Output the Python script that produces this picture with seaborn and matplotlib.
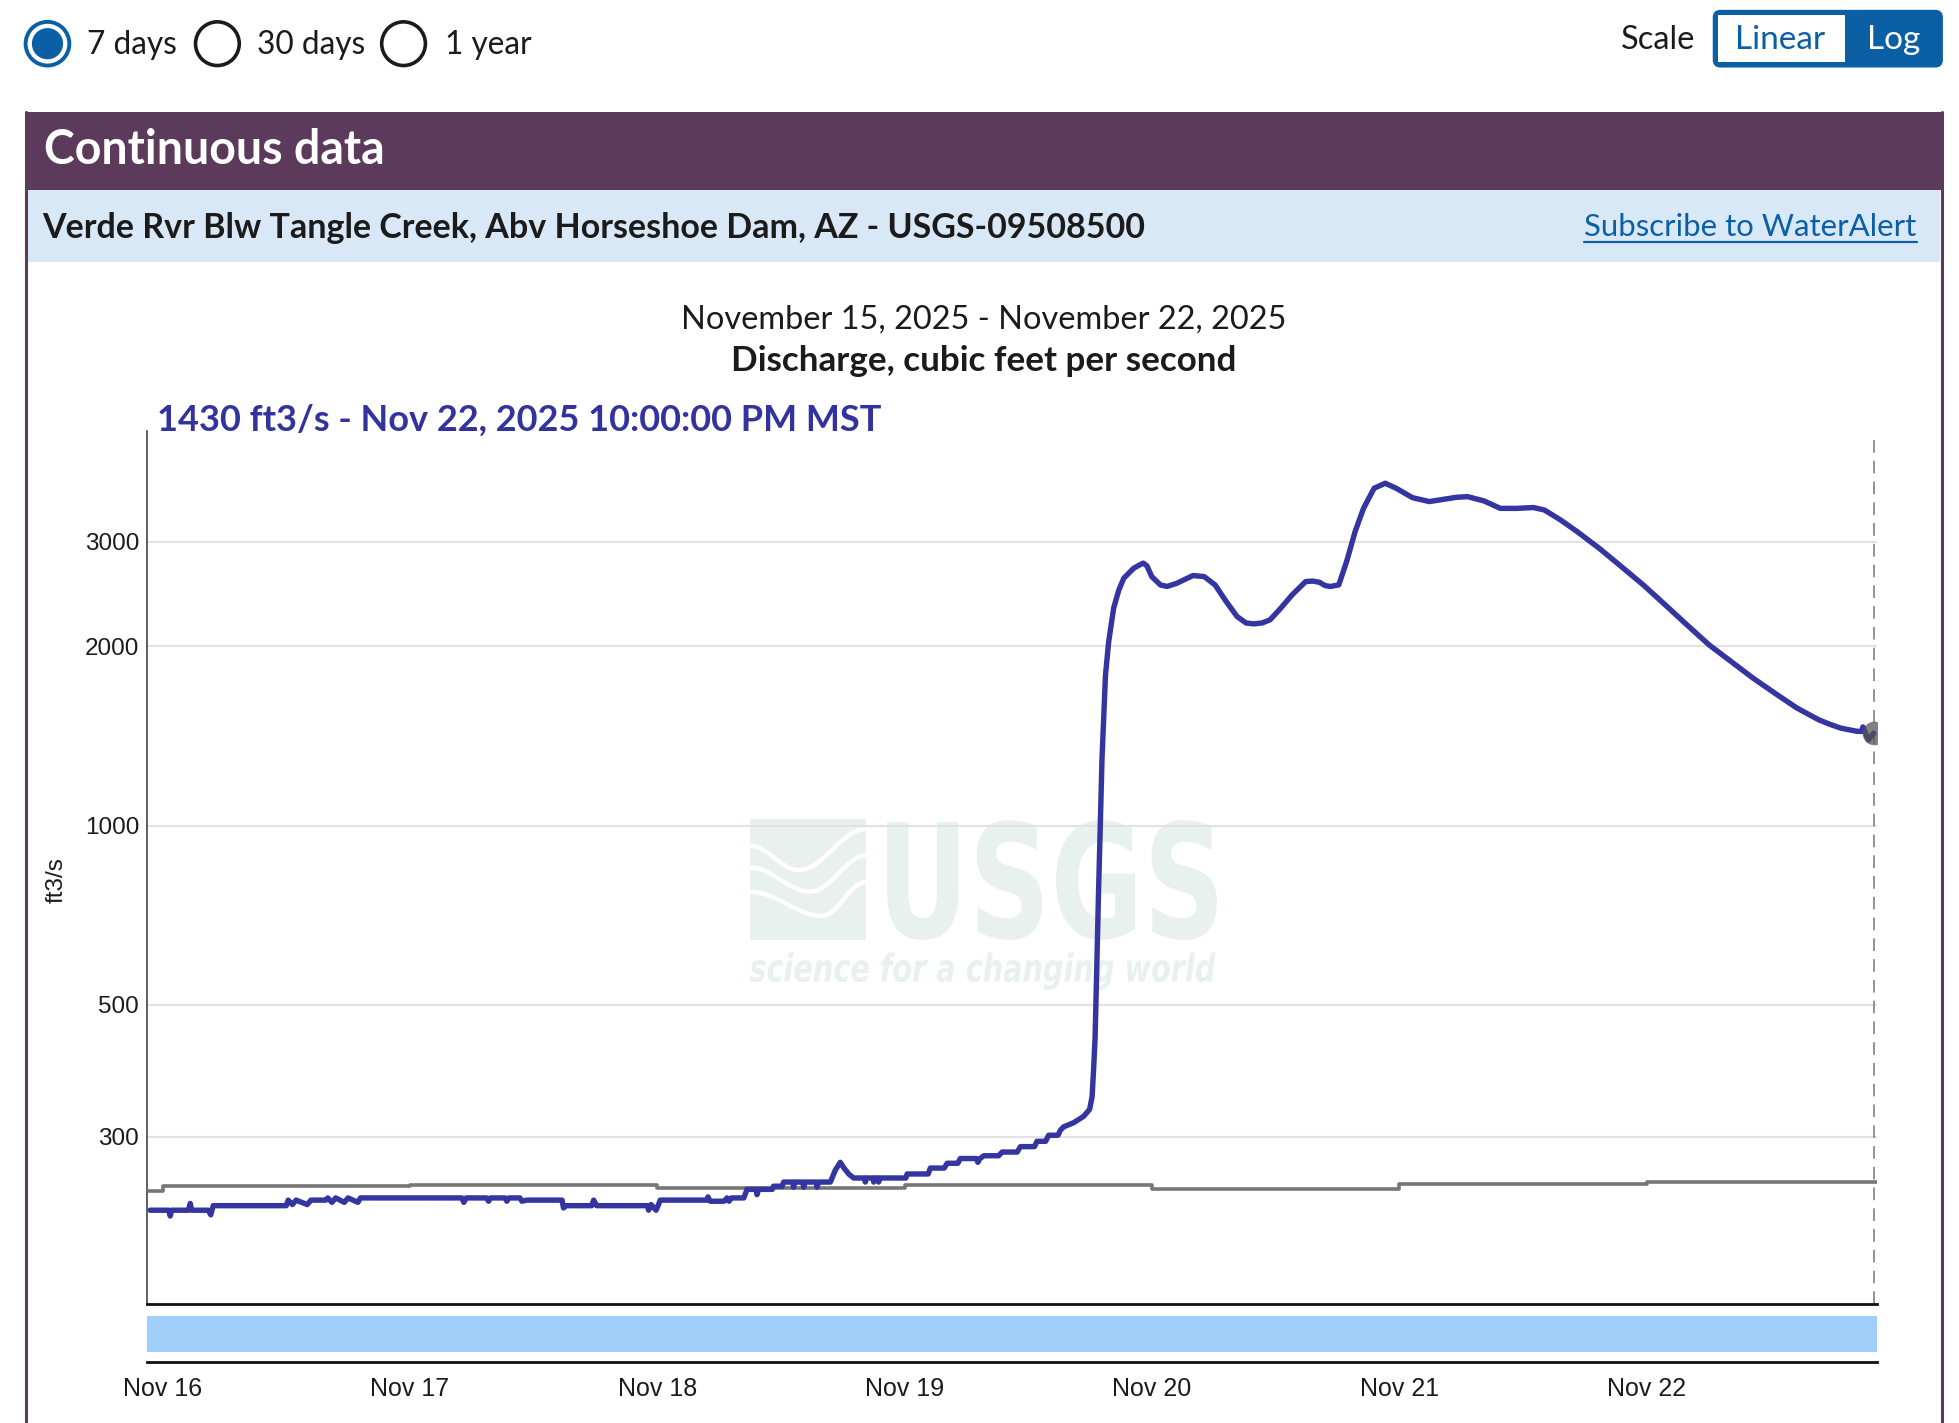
import numpy as np
import pandas as pd
import matplotlib
matplotlib.use("Agg")
import matplotlib.pyplot as plt
import matplotlib.dates as mdates
from matplotlib.patches import Rectangle, FancyBboxPatch, Circle, PathPatch
from matplotlib.textpath import TextPath
from matplotlib.font_manager import FontProperties
from matplotlib.transforms import Affine2D
from matplotlib.ticker import NullLocator
import seaborn as sns

# discharge readings (days after Nov 16 00:00 MST, ft3/s)
flow_days = [-0.050, 0.025, 0.031, 0.037, 0.105, 0.112, 0.118, 0.185, 0.195, 0.205,
             0.500, 0.508, 0.525, 0.540, 0.585, 0.600, 0.660, 0.668, 0.685, 0.700,
             0.735, 0.750, 0.790, 0.800, 1.210, 1.218, 1.228, 1.310, 1.318, 1.326,
             1.385, 1.392, 1.400, 1.445, 1.453, 1.473, 1.615, 1.621, 1.632, 1.735,
             1.743, 1.755, 1.960, 1.965, 1.975, 1.995, 2.005, 2.012, 2.200, 2.205,
             2.214, 2.270, 2.282, 2.290, 2.300, 2.350, 2.363, 2.400, 2.403, 2.410,
             2.465, 2.470, 2.505, 2.511, 2.548, 2.551, 2.556, 2.588, 2.592, 2.598,
             2.642, 2.646, 2.652, 2.700, 2.720, 2.740, 2.755, 2.774, 2.794, 2.838,
             2.841, 2.846, 2.872, 2.875, 2.880, 2.892, 2.895, 2.900, 3.005, 3.010,
             3.095, 3.104, 3.160, 3.172, 3.215, 3.225, 3.290, 3.296, 3.305, 3.320,
             3.380, 3.394, 3.455, 3.468, 3.525, 3.535, 3.570, 3.582, 3.620, 3.630,
             3.643, 3.683, 3.724, 3.748, 3.758, 3.764, 3.770, 3.784, 3.798, 3.812,
             3.825, 3.845, 3.866, 3.886, 3.926, 3.953, 3.965, 3.980, 3.999, 4.034,
             4.061, 4.100, 4.166, 4.211, 4.255, 4.300, 4.344, 4.380, 4.411, 4.445,
             4.477, 4.521, 4.566, 4.621, 4.650, 4.677, 4.700, 4.721, 4.755, 4.787,
             4.821, 4.855, 4.898, 4.943, 4.987, 5.053, 5.121, 5.187, 5.230, 5.276,
             5.342, 5.408, 5.475, 5.542, 5.586, 5.652, 5.719, 5.808, 5.897, 5.986,
             6.075, 6.163, 6.252, 6.341, 6.430, 6.518, 6.607, 6.695, 6.740, 6.785,
             6.851, 6.868, 6.874, 6.880, 6.896, 6.917]
flow_cfs = [226, 226, 221, 226, 226, 232, 226, 226, 222, 230,
            230, 235, 231, 235, 231, 235, 235, 237, 233, 237,
            233, 237, 233, 237, 237, 233, 237, 237, 234, 237,
            237, 234, 237, 237, 234, 235, 235, 228, 230, 230,
            235, 230, 230, 226, 231, 226, 231, 235, 235, 238,
            234, 234, 237, 234, 237, 237, 245, 245, 240, 245,
            245, 248, 248, 252, 252, 247, 252, 252, 247, 252,
            252, 247, 252, 252, 264, 272, 266, 260, 256, 256,
            252, 256, 256, 252, 256, 256, 252, 256, 256, 260,
            260, 266, 266, 271, 271, 276, 276, 272, 276, 279,
            279, 283, 283, 289, 289, 295, 295, 302, 302, 308,
            312, 317, 325, 334, 351, 390, 440, 776, 1297, 1791,
            2039, 2319, 2488, 2604, 2706, 2745, 2760, 2730, 2620, 2537,
            2522, 2553, 2631, 2620, 2537, 2379, 2245, 2190, 2182, 2190,
            2216, 2320, 2440, 2570, 2575, 2563, 2530, 2522, 2537, 2779,
            3117, 3411, 3687, 3759, 3687, 3555, 3502, 3537, 3560, 3569,
            3511, 3411, 3411, 3422, 3390, 3261, 3117, 2923, 2724, 2537,
            2348, 2173, 2012, 1887, 1769, 1669, 1576, 1506, 1480, 1458,
            1440, 1440, 1465, 1445, 1393, 1430]

# daily median statistic (step line)
median_days = [-0.061, 0, 1, 2, 3, 4, 5, 6, 6.93]
median_cfs = [243, 248, 249, 246, 249, 245, 250, 252, 252]

y_ticks = [300, 500, 1000, 2000, 3000]
x_start, x_end = -0.061, 6.929

t0 = pd.Timestamp("2025-11-16")
flow = pd.DataFrame({"time": t0 + pd.to_timedelta(flow_days, unit="D"), "cfs": flow_cfs})
median = pd.DataFrame({"time": t0 + pd.to_timedelta(median_days, unit="D"), "cfs": median_cfs})

sns.set_style("white")
plt.rcParams["font.family"] = ["Lato", "DejaVu Sans"]

W, H = 1568, 1140
fig = plt.figure(figsize=(19.59, 14.23), dpi=100)

# page layer in screen pixels
bg = fig.add_axes([0, 0, 1, 1])
bg.set_xlim(0, W)
bg.set_ylim(H, 0)
bg.axis("off")

blue = "#0b5fa5"
ink = "#1b1b1b"
wm = "#e8f1ee"

# period radio buttons
bg.add_patch(Circle((38, 35), 17.5, fc="white", ec=blue, lw=2.8))
bg.add_patch(Circle((38, 35), 12.5, fc=blue, ec="none"))
for cx in [174, 323]:
    bg.add_patch(Circle((cx, 35), 17.5, fc="white", ec=ink, lw=2.6))
for x, s in [(70, "7 days"), (206, "30 days"), (356, "1 year")]:
    bg.text(x, 36, s, fontsize=22.8, color=ink, va="center", ha="left")

# scale toggle
bg.text(1297, 32, "Scale", fontsize=23.5, color=ink, va="center", ha="left")
bg.add_patch(FancyBboxPatch((1372, 9), 182, 44, boxstyle="round,pad=0,rounding_size=5",
                            fc=blue, ec=blue, lw=2))
bg.add_patch(Rectangle((1375, 12), 102, 38, fc="white", ec="none"))
bg.text(1425, 32, "Linear", fontsize=24, color=blue, va="center", ha="center")
bg.text(1516, 32, "Log", fontsize=24, color="white", va="center", ha="center")

# panel header
bg.add_patch(Rectangle((20, 90), 1535, 62, fc="#5b3a5b", ec="none"))
bg.text(35, 120, "Continuous data", fontsize=33.5, fontweight="bold", color="white",
        va="center", ha="left")
bg.add_patch(Rectangle((22, 152), 1531, 58, fc="#d8e8f6", ec="none"))
bg.text(34, 183, "Verde Rvr Blw Tangle Creek, Abv Horseshoe Dam, AZ - USGS-09508500",
        fontsize=24.5, fontweight="bold", color=ink, va="center", ha="left")
bg.text(1534, 182, "Subscribe to WaterAlert", fontsize=22.4, color=blue, va="center", ha="right")
bg.plot([1268, 1534], [194, 194], color=blue, lw=1.6)
bg.plot([20.5, 20.5], [90, H], color="#5b3a5b", lw=2.2)
bg.plot([1554.5, 1554.5], [90, H], color="#5b3a5b", lw=2.2)

# chart titles
bg.text(787, 256, "November 15, 2025 - November 22, 2025", fontsize=23.4, color=ink,
        va="center", ha="center")
bg.text(787, 289, "Discharge, cubic feet per second", fontsize=25.2, fontweight="bold",
        color=ink, va="center", ha="center")
bg.text(126, 337, "1430 ft3/s - Nov 22, 2025 10:00:00 PM MST", fontsize=26,
        fontweight="bold", color="#33339f", va="center", ha="left")


def fit_text(s, prop, x0, x1, y0, y1):
    tp = TextPath((0, 0), s, prop=prop, size=10)
    ext = tp.get_extents()
    tr = (Affine2D().translate(-ext.x0, -ext.y0)
          .scale((x1 - x0) / ext.width, -(y1 - y0) / ext.height).translate(x0, y1))
    bg.add_patch(PathPatch(tr.transform_path(tp), fc=wm, ec="none", zorder=1))


# USGS watermark
narrow = FontProperties(family=["Liberation Sans Narrow", "DejaVu Sans"], weight="bold")
narrow_it = FontProperties(family=["Liberation Sans Narrow", "DejaVu Sans"], weight="bold",
                           style="italic")
fit_text("USGS", narrow, 710, 974, 657, 753)
fit_text("science for a changing world", narrow_it, 600, 973, 763, 793)
bg.add_patch(Rectangle((600.5, 656.5), 92.5, 96.5, fc=wm, ec="none", zorder=1))
u = np.linspace(0, 1, 60)
for vl, vt, ut, vr in [(0.22, 0.42, 0.42, 0.08), (0.40, 0.60, 0.52, 0.30), (0.60, 0.80, 0.62, 0.52)]:
    v = np.where(u < ut, vl + (vt - vl) * (1 - np.cos(np.pi * u / ut)) / 2,
                 vt + (vr - vt) * (1 - np.cos(np.pi * (u - ut) / (1 - ut))) / 2)
    bg.plot(600.5 + 92.5 * u, 656.5 + 96.5 * v, color="white", lw=3.2, zorder=2,
            solid_capstyle="butt")

# main hydrograph
ax = fig.add_axes([118 / W, 1 - 1045 / H, 1384 / W, 690 / H])
ax.patch.set_alpha(0)
sns.lineplot(data=median, x="time", y="cfs", ax=ax, color="#767676", lw=2.6,
             drawstyle="steps-post", zorder=3)
sns.lineplot(data=flow, x="time", y="cfs", ax=ax, color="#3535a2", lw=3.9, zorder=4)
last_t = flow["time"].iloc[-1]
ax.plot([last_t], [flow["cfs"].iloc[-1]], "o", ms=17, color="#555555", alpha=0.75,
        mec="none", zorder=5)
ax.axvline(last_t, ymin=0, ymax=1.004, color="#8a8a8a", lw=1.3, ls=(0, (7, 4.5)),
           clip_on=False, zorder=2)

ax.set_yscale("log")
ax.set_ylim(157, 4390)
ax.set_xlim(t0 + pd.Timedelta(days=x_start), t0 + pd.Timedelta(days=x_end))
ax.set_yticks(y_ticks)
ax.set_yticklabels([str(v) for v in y_ticks], family="Liberation Sans", fontsize=17.5,
                   color=ink)
ax.yaxis.set_minor_locator(NullLocator())
ax.tick_params(axis="y", length=0, pad=6)
ax.set_xticks([])
ax.grid(axis="y", color="#e2e2e2", lw=1.5)
ax.set_axisbelow(True)
ax.set_xlabel("")
ax.set_ylabel("")
for side in ["top", "right"]:
    ax.spines[side].set_visible(False)
ax.spines["left"].set_color("#333333")
ax.spines["left"].set_linewidth(1.1)
ax.spines["left"].set_bounds(157, 4600)
ax.spines["bottom"].set_color("#111111")
ax.spines["bottom"].set_linewidth(2)
bg.text(45, 705, "ft3/s", rotation=90, family="Liberation Sans", fontsize=17.5,
        color=ink, va="center", ha="center")

# brush strip with date axis
axb = fig.add_axes([118 / W, 1 - 1091 / H, 1384 / W, 41 / H])
axb.patch.set_alpha(0)
axb.set_xlim(ax.get_xlim())
axb.set_ylim(0, 1)
axb.axhspan(8 / 41, 37 / 41, color="#a0d0fa", lw=0)
axb.set_yticks([])
for side in ["top", "right", "left"]:
    axb.spines[side].set_visible(False)
axb.spines["bottom"].set_color("#111111")
axb.spines["bottom"].set_linewidth(2)
axb.xaxis.set_major_locator(mdates.DayLocator())
axb.xaxis.set_major_formatter(mdates.DateFormatter("%b %d"))
axb.tick_params(axis="x", direction="out", length=7.5, width=1, color="#333333",
                pad=3.5, labelsize=18, labelcolor=ink)
for lab in axb.get_xticklabels():
    lab.set_family("Liberation Sans")

fig.savefig("out.png", dpi=100)
